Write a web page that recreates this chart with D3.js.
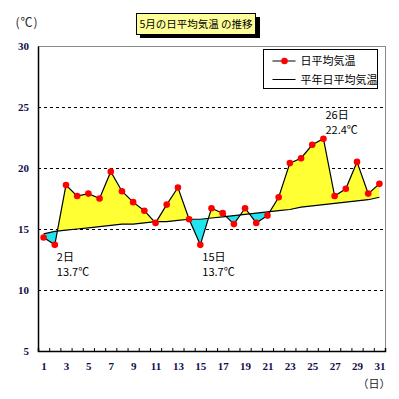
<!DOCTYPE html>
<html>
<head>
<meta charset="utf-8">
<script src="https://d3js.org/d3.v7.min.js"></script>
<style>
  body { margin: 0; background: #fff; }
  text { font-family: "Noto Sans CJK JP", sans-serif; }
</style>
</head>
<body>
<div id="chart"></div>
<script>
// data
var days = d3.range(1, 32);
var temps = [14.3, 13.7, 18.6, 17.7, 17.9, 17.5, 19.7, 18.1, 17.2, 16.5,
             15.5, 17.0, 18.4, 15.8, 13.7, 16.7, 16.3, 15.4, 16.7, 15.5,
             16.1, 17.6, 20.4, 20.8, 21.9, 22.4, 17.7, 18.3, 20.5, 17.9, 18.7];
var normals = [14.6, 14.8, 14.9, 15.0, 15.1, 15.2, 15.3, 15.4, 15.4, 15.5,
               15.6, 15.6, 15.7, 15.8, 15.8, 15.9, 16.0, 16.1, 16.2, 16.3,
               16.4, 16.5, 16.6, 16.8, 16.9, 17.0, 17.1, 17.2, 17.3, 17.4, 17.6];
var yTicks = [5, 10, 15, 20, 25, 30];
var xLabels = [1, 3, 5, 7, 9, 11, 13, 15, 17, 19, 21, 23, 25, 27, 29, 31];
var notes = [{day: 2, text1: "2日", text2: "13.7℃"},
             {day: 15, text1: "15日", text2: "13.7℃"},
             {day: 26, text1: "26日", text2: "22.4℃"}];

var data = days.map(function(d, i) { return {day: d, t: temps[i], n: normals[i]}; });

var margin = {top: 46, left: 38},
    width = 347,
    height = 305;

var root = d3.select("#chart").append("svg")
    .attr("width", 399)
    .attr("height", 399);

var svg = root.append("g")
    .attr("transform", "translate(" + margin.left + "," + margin.top + ")");

var x = d3.scaleLinear().domain([0.5, 31.5]).range([0, width]);
var y = d3.scaleLinear().domain([5, 30]).range([height, 0]);

// frame (top/right gray)
svg.append("rect")
    .attr("x", 0.5).attr("y", 0.5)
    .attr("width", width)
    .attr("height", height)
    .attr("fill", "#fff")
    .attr("stroke", "#888")
    .attr("shape-rendering", "crispEdges");

// dashed gridlines
svg.append("g").selectAll("line")
    .data([10, 15, 20, 25])
    .enter().append("line")
    .attr("x1", 0).attr("x2", width)
    .attr("y1", function(d) { return Math.round(y(d)) + 0.5; })
    .attr("y2", function(d) { return Math.round(y(d)) + 0.5; })
    .attr("stroke", "#000")
    .attr("stroke-dasharray", "3,3")
    .attr("shape-rendering", "crispEdges");

// clip paths for above / below normal
var defs = svg.append("defs");
defs.append("clipPath").attr("id", "clip-above")
  .append("path").datum(data)
    .attr("d", d3.area()
      .x(function(d) { return x(d.day); })
      .y0(0)
      .y1(function(d) { return y(d.n); }));
defs.append("clipPath").attr("id", "clip-below")
  .append("path").datum(data)
    .attr("d", d3.area()
      .x(function(d) { return x(d.day); })
      .y0(height)
      .y1(function(d) { return y(d.n); }));

var diffArea = d3.area()
    .x(function(d) { return x(d.day); })
    .y0(function(d) { return y(d.n); })
    .y1(function(d) { return y(d.t); });

svg.append("path").datum(data)
    .attr("clip-path", "url(#clip-above)")
    .attr("fill", "#ffff33")
    .attr("d", diffArea);
svg.append("path").datum(data)
    .attr("clip-path", "url(#clip-below)")
    .attr("fill", "#22e4ee")
    .attr("d", diffArea);

// normal line
svg.append("path").datum(data)
    .attr("fill", "none")
    .attr("stroke", "#000")
    .attr("stroke-width", 1.2)
    .attr("d", d3.line()
      .x(function(d) { return x(d.day); })
      .y(function(d) { return y(d.n); }));

// daily line
svg.append("path").datum(data)
    .attr("fill", "none")
    .attr("stroke", "#000")
    .attr("stroke-width", 1.2)
    .attr("d", d3.line()
      .x(function(d) { return x(d.day); })
      .y(function(d) { return y(d.t); }));

svg.append("g").selectAll("circle")
    .data(data)
    .enter().append("circle")
    .attr("cx", function(d) { return x(d.day); })
    .attr("cy", function(d) { return y(d.t); })
    .attr("r", 3.3)
    .attr("fill", "#ff0000");

// axes
var xAxis = svg.append("g")
    .attr("transform", "translate(0," + height + ")")
    .call(d3.axisBottom(x).tickValues(d3.range(1.5, 31, 1)).tickSize(-3).tickFormat(""));
xAxis.select(".domain").attr("stroke", "#000").attr("stroke-width", 1.5);

var xLab = svg.append("g")
    .attr("transform", "translate(0," + height + ")")
    .call(d3.axisBottom(x).tickValues(xLabels).tickSize(0).tickPadding(11).tickFormat(d3.format("d")));
xLab.select(".domain").remove();
xLab.selectAll("text")
    .style("font-family", "'Liberation Serif', serif")
    .style("font-size", "11px")
    .style("font-weight", "bold")
    .attr("fill", "#10104a");

var yAxis = svg.append("g")
    .call(d3.axisLeft(y).tickValues(yTicks).tickSize(0).tickPadding(9));
yAxis.select(".domain").attr("stroke", "#000").attr("stroke-width", 1.5);
yAxis.selectAll("text")
    .style("font-family", "'Liberation Serif', serif")
    .style("font-size", "11px")
    .style("font-weight", "bold")
    .attr("fill", "#10104a");

// unit labels
root.append("text")
    .attr("x", 27).attr("y", 26.5)
    .attr("text-anchor", "middle")
    .style("font-size", "12px")
    .style("letter-spacing", "1px")
    .attr("fill", "#222")
    .text("(℃)");
root.append("text")
    .attr("x", 374).attr("y", 388)
    .attr("text-anchor", "middle")
    .style("font-size", "11px")
    .attr("fill", "#222")
    .text("（日）");

// annotations
notes.forEach(function(n) {
    var d = data[n.day - 1];
    var x0 = margin.left + x(d.day) + 2;
    var y0 = n.day == 26 ? 119 : margin.top + y(d.t) + 16;
    root.append("text")
        .attr("x", x0).attr("y", y0)
        .style("font-size", "11px")
        .text(n.text1);
    root.append("text")
        .attr("x", x0).attr("y", y0 + 15)
        .style("font-size", "11px")
        .text(n.text2);
});

// title box
root.append("rect")
    .attr("x", 140).attr("y", 17)
    .attr("width", 120).attr("height", 21)
    .attr("fill", "#000");
root.append("rect")
    .attr("x", 136.5).attr("y", 13.5)
    .attr("width", 119).attr("height", 21)
    .attr("fill", "#ffff99")
    .attr("stroke", "#000");
root.append("text")
    .attr("x", 196).attr("y", 28)
    .attr("text-anchor", "middle")
    .style("font-size", "10.5px")
    .text("5月の日平均気温 の推移");

// legend
var legend = root.append("g").attr("transform", "translate(263.5,49.5)");
legend.append("rect")
    .attr("width", 114).attr("height", 39)
    .attr("fill", "#fff")
    .attr("stroke", "#000");
legend.append("line")
    .attr("x1", 9).attr("x2", 32).attr("y1", 11.5).attr("y2", 11.5)
    .attr("stroke", "#000");
legend.append("circle")
    .attr("cx", 21).attr("cy", 11.5).attr("r", 3.3)
    .attr("fill", "#ff0000");
legend.append("text")
    .attr("x", 37).attr("y", 15.5)
    .style("font-size", "11px")
    .text("日平均気温");
legend.append("line")
    .attr("x1", 9).attr("x2", 32).attr("y1", 30).attr("y2", 30)
    .attr("stroke", "#000");
legend.append("text")
    .attr("x", 37).attr("y", 34)
    .style("font-size", "11px")
    .text("平年日平均気温");
</script>
</body>
</html>
